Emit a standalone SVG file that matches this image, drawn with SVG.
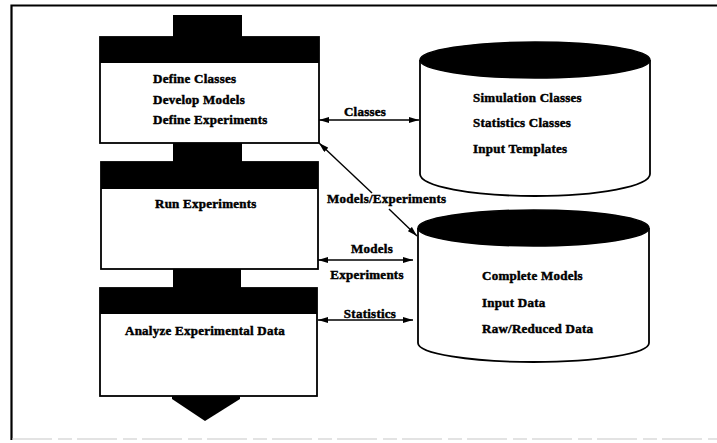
<svg xmlns="http://www.w3.org/2000/svg" width="717" height="443" viewBox="0 0 717 443">
  <style>
    .lbl { font-family: "Liberation Serif", "Times New Roman", serif; font-weight: bold; font-size: 13px; letter-spacing: 0.25px; fill: #000; stroke: #000; stroke-width: 0.45; }
    .body { fill: #fff; stroke: #000; stroke-width: 1.8; }
    .band { fill: #000; }
    .top { fill: #000; stroke: #000; stroke-width: 1.5; }
    .conn { fill: none; stroke: #000; stroke-width: 1.4; }
  </style>
  <defs>
    <marker id="head" viewBox="0 0 10 6" refX="10" refY="3" markerWidth="10" markerHeight="6" markerUnits="userSpaceOnUse" orient="auto-start-reverse">
      <path d="M0,0 L10,3 L0,6 Z" fill="#000"/>
    </marker>
  </defs>

  <rect width="717" height="443" fill="#fff"/>

  <!-- page frame -->
  <g id="frame">
    <path d="M11.5,440 V5.5 H717" fill="none" stroke="#000" stroke-width="2.2"/>
    <path d="M12,439 H717" fill="none" stroke="#c8c8c8" stroke-width="1.2" stroke-dasharray="40 6 14 5"/>
  </g>

  <!-- process flow -->
  <g id="define">
    <rect class="band" x="173" y="15" width="69" height="23"/>
    <rect class="body" x="100" y="37" width="219" height="106"/>
    <rect class="band" x="100" y="37" width="219" height="26"/>
    <text class="lbl" x="153" y="83">Define Classes</text>
    <text class="lbl" x="153" y="104">Develop Models</text>
    <text class="lbl" x="153" y="124">Define Experiments</text>
  </g>

  <g id="run">
    <rect class="band" x="173" y="143" width="69" height="20"/>
    <rect class="body" x="101" y="162" width="217" height="107"/>
    <rect class="band" x="101" y="162" width="217" height="27"/>
    <text class="lbl" x="155" y="208">Run Experiments</text>
  </g>

  <g id="analyze">
    <rect class="band" x="173" y="269" width="68" height="20"/>
    <rect class="body" x="100" y="288" width="217" height="108"/>
    <rect class="band" x="100" y="288" width="217" height="26"/>
    <text class="lbl" x="125" y="335">Analyze Experimental Data</text>
    <polygon points="172,396 240,396 240,399 205,421 172,399" fill="#000"/>
  </g>

  <!-- data stores -->
  <g id="classes-store">
    <path class="body" d="M420,60 V174 A115,22 0 0 0 650,174 V60"/>
    <ellipse class="top" cx="535" cy="60" rx="115" ry="18"/>
    <text class="lbl" x="473" y="102">Simulation Classes</text>
    <text class="lbl" x="473" y="127">Statistics Classes</text>
    <text class="lbl" x="473" y="153">Input Templates</text>
  </g>

  <g id="data-store">
    <path class="body" d="M418,228 V343 A115.5,19 0 0 0 649,343 V228"/>
    <ellipse class="top" cx="533.5" cy="228" rx="115.5" ry="18"/>
    <text class="lbl" x="482" y="280">Complete Models</text>
    <text class="lbl" x="482" y="307">Input Data</text>
    <text class="lbl" x="482" y="333">Raw/Reduced Data</text>
  </g>

  <!-- connectors -->
  <g id="connectors">
    <line class="conn" x1="319" y1="120" x2="419" y2="120" marker-start="url(#head)" marker-end="url(#head)"/>
    <text class="lbl" x="365" y="116" text-anchor="middle">Classes</text>

    <line class="conn" x1="319" y1="143" x2="372" y2="193" marker-start="url(#head)"/>
    <line class="conn" x1="389" y1="209" x2="417" y2="236" marker-end="url(#head)"/>
    <text class="lbl" x="327" y="203">Models/Experiments</text>

    <line class="conn" x1="318" y1="260" x2="413" y2="260" marker-start="url(#head)" marker-end="url(#head)"/>
    <text class="lbl" x="372" y="253" text-anchor="middle">Models</text>
    <text class="lbl" x="367" y="279" text-anchor="middle">Experiments</text>

    <line class="conn" x1="318" y1="320" x2="413" y2="320" marker-start="url(#head)" marker-end="url(#head)"/>
    <text class="lbl" x="370" y="318" text-anchor="middle">Statistics</text>
  </g>
</svg>
